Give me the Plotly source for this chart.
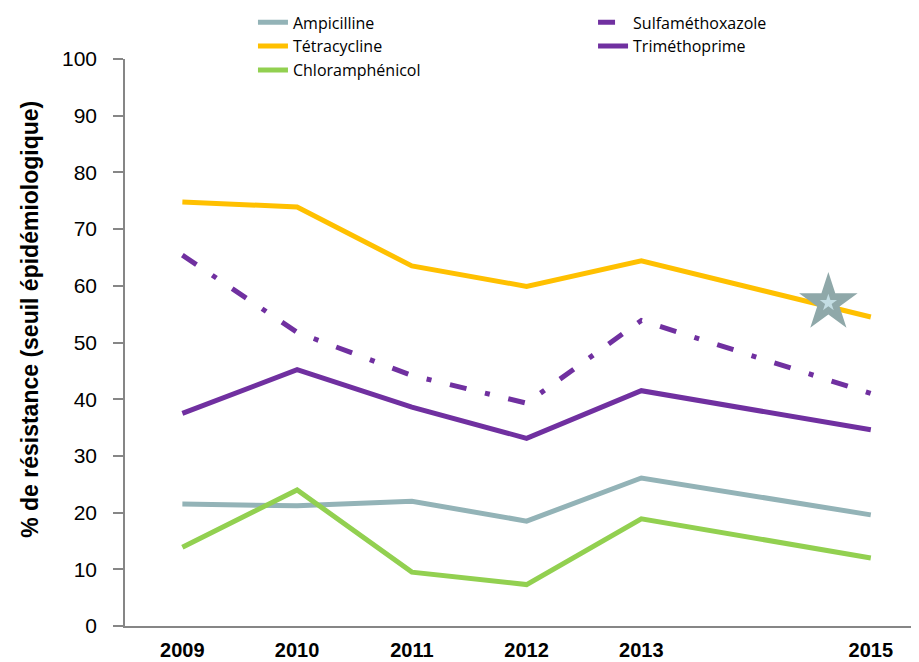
import plotly.graph_objects as go

years = [2009, 2010, 2011, 2012, 2013, 2015]
tick_labels = ["2009", "2010", "2011", "2012", "2013", "2015"]

ampicilline = [21.5, 21.2, 22.0, 18.5, 26.1, 19.6]
tetracycline = [74.8, 73.9, 63.5, 59.9, 64.4, 54.5]
chloramphenicol = [13.9, 24.0, 9.5, 7.3, 18.9, 12.0]
sulfamethoxazole = [65.4, 51.8, 44.2, 39.3, 53.9, 41.0]
trimethoprime = [37.5, 45.2, 38.6, 33.1, 41.5, 34.6]

star_x = [2014.63]
star_y = [57.0]

y_title = "% de résistance (seuil épidémiologique)"

fig = go.Figure()

def add_line(name, y, color, legend, dash="solid"):
    fig.add_trace(go.Scatter(
        x=years, y=y, name=name, mode="lines", legend=legend,
        line=dict(color=color, width=5, dash=dash),
    ))

add_line("Ampicilline", ampicilline, "#93B3B7", "legend")
add_line("Tétracycline", tetracycline, "#FFC000", "legend")
add_line("Chloramphénicol", chloramphenicol, "#92D050", "legend")
add_line("Sulfaméthoxazole", sulfamethoxazole, "#7030A0", "legend2", dash="17px,19px,5px,19px")
add_line("Triméthoprime", trimethoprime, "#7030A0", "legend2")

fig.add_trace(go.Scatter(
    x=star_x, y=star_y, mode="markers", showlegend=False, hoverinfo="skip",
    marker=dict(symbol="star", size=44, color="#8FA8A9", line=dict(width=0)),
))
fig.add_trace(go.Scatter(
    x=star_x, y=star_y, mode="markers", showlegend=False, hoverinfo="skip",
    marker=dict(symbol="star", size=13, color="#C3DDE3", line=dict(width=0)),
))

legend_common = dict(
    orientation="v", xref="container", yref="paper",
    y=1.0945, xanchor="left", yanchor="top",
    font=dict(family="Open Sans, Liberation Sans, sans-serif", size=16, color="black"),
    tracegroupgap=0, bgcolor="rgba(0,0,0,0)",
)

fig.update_layout(
    width=911, height=654,
    margin=dict(l=117, r=0, t=51, b=36, autoexpand=False),
    plot_bgcolor="white", paper_bgcolor="white",
    font=dict(family="Liberation Sans, Arial, sans-serif", color="black"),
    legend=dict(x=0.2689, **legend_common),
    legend2=dict(x=0.6422, **legend_common),
    xaxis=dict(
        range=[2008.5, 2015.42],
        tickvals=years, ticktext=tick_labels,
        showgrid=False, zeroline=False,
        showline=True, linecolor="#868686", linewidth=2,
        ticks="", ticklabelstandoff=5,
        tickfont=dict(family="Liberation Sans, Arial", size=20, color="black", weight="bold"),
    ),
    yaxis=dict(
        range=[0, 100], dtick=10, tick0=0,
        showgrid=False, zeroline=False,
        showline=True, linecolor="#868686", linewidth=1.5,
        ticks="outside", ticklen=10, tickcolor="#868686", tickwidth=1.5,
        ticklabelstandoff=12,
        tickfont=dict(size=21, color="black"),
    ),
    annotations=[dict(
        text="<b>" + y_title + "</b>", textangle=-90,
        xref="paper", yref="paper", x=-0.1196, y=0.540,
        xanchor="center", yanchor="middle", showarrow=False,
        font=dict(size=23, color="black"),
    )],
)

fig.write_html("out.html")
